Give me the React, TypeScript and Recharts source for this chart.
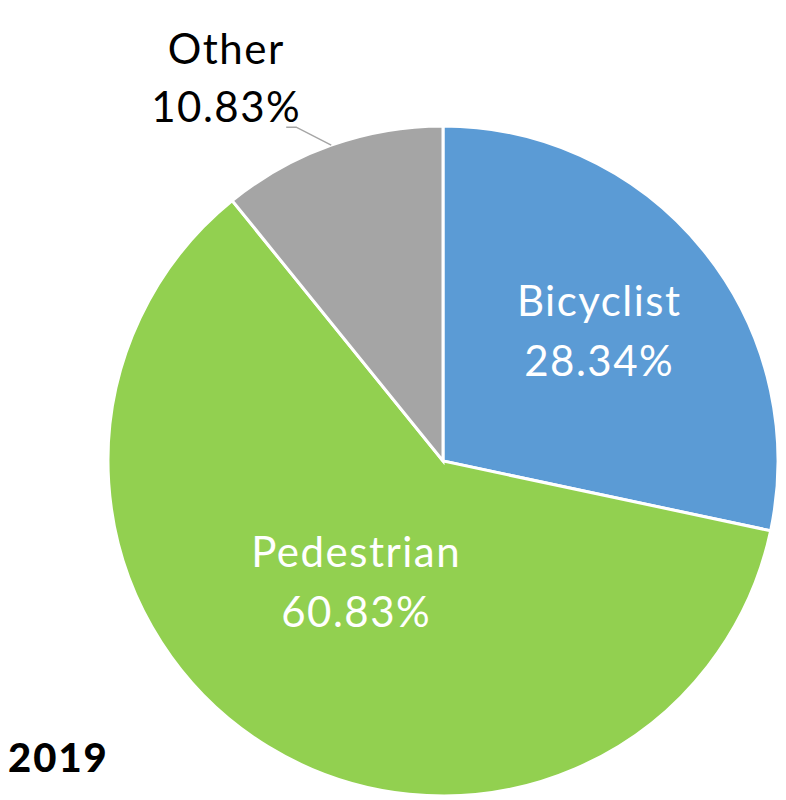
import React from 'react';
import { PieChart, Pie, Cell } from 'recharts';

const categories = ['Bicyclist', 'Pedestrian', 'Other'];
const shares = [28.34, 60.83, 10.83];
const colors = ['#5B9BD5', '#92D050', '#A5A5A5'];
const yearLabel = '2019';

const data = categories.map((name, i) => ({ name, value: shares[i] }));

const FONT = 'Lato, "Noto Sans", sans-serif';
const RAD = Math.PI / 180;

// label placement, roughly where the original put them
const insideFactor = [0.6, 0.45];
const nudge = [
  [0, -5],
  [-8, -9],
];

function renderLabel(props: any) {
  const { cx, cy, midAngle, outerRadius, index, value, name } = props;
  const pct = `${Number(value).toFixed(2)}%`;
  if (index < 2) {
    const r = outerRadius * insideFactor[index];
    const x = cx + r * Math.cos(-midAngle * RAD) + nudge[index][0];
    const y = cy + r * Math.sin(-midAngle * RAD) + nudge[index][1];
    return (
      <text x={x} y={y} fill="#fff" textAnchor="middle" fontFamily={FONT} fontSize={42} letterSpacing={1.5}>
        <tspan x={x} dy={-14}>{name}</tspan>
        <tspan x={x} dy={60}>{pct}</tspan>
      </text>
    );
  }
  // outside label with leader line
  const sx = cx + outerRadius * Math.cos(-midAngle * RAD);
  const sy = cy + outerRadius * Math.sin(-midAngle * RAD);
  const mx = sx - 35;
  const my = sy - 18;
  const ex = mx - 10;
  const tx = ex - 60;
  return (
    <g>
      <polyline points={`${sx},${sy} ${mx},${my} ${ex},${my}`} fill="none" stroke="#A5A5A5" strokeWidth={1.5} />
      <text x={tx} y={my} fill="#000" textAnchor="middle" fontFamily={FONT} fontSize={42} letterSpacing={1.5}>
        <tspan x={tx} dy={-63}>{name}</tspan>
        <tspan x={tx} dy={58}>{pct}</tspan>
      </text>
    </g>
  );
}

export default function App() {
  return (
    <div style={{ position: 'absolute', left: 0, top: 0, width: 786, height: 800, background: '#fff' }}>
      <PieChart width={786} height={800}>
        <Pie
          data={data}
          dataKey="value"
          nameKey="name"
          cx={438}
          cy={456}
          outerRadius={335}
          startAngle={90}
          endAngle={-270}
          stroke="#fff"
          strokeWidth={3}
          label={renderLabel}
          labelLine={false}
          isAnimationActive={false}
        >
          {data.map((d, i) => (
            <Cell key={d.name} fill={colors[i]} />
          ))}
        </Pie>
      </PieChart>
      <div
        style={{
          position: 'absolute',
          left: 8,
          top: 734,
          fontFamily: FONT,
          fontWeight: 900,
          fontSize: 40,
          letterSpacing: 2,
          color: '#000',
          lineHeight: '46px',
        }}
      >
        {yearLabel}
      </div>
    </div>
  );
}
